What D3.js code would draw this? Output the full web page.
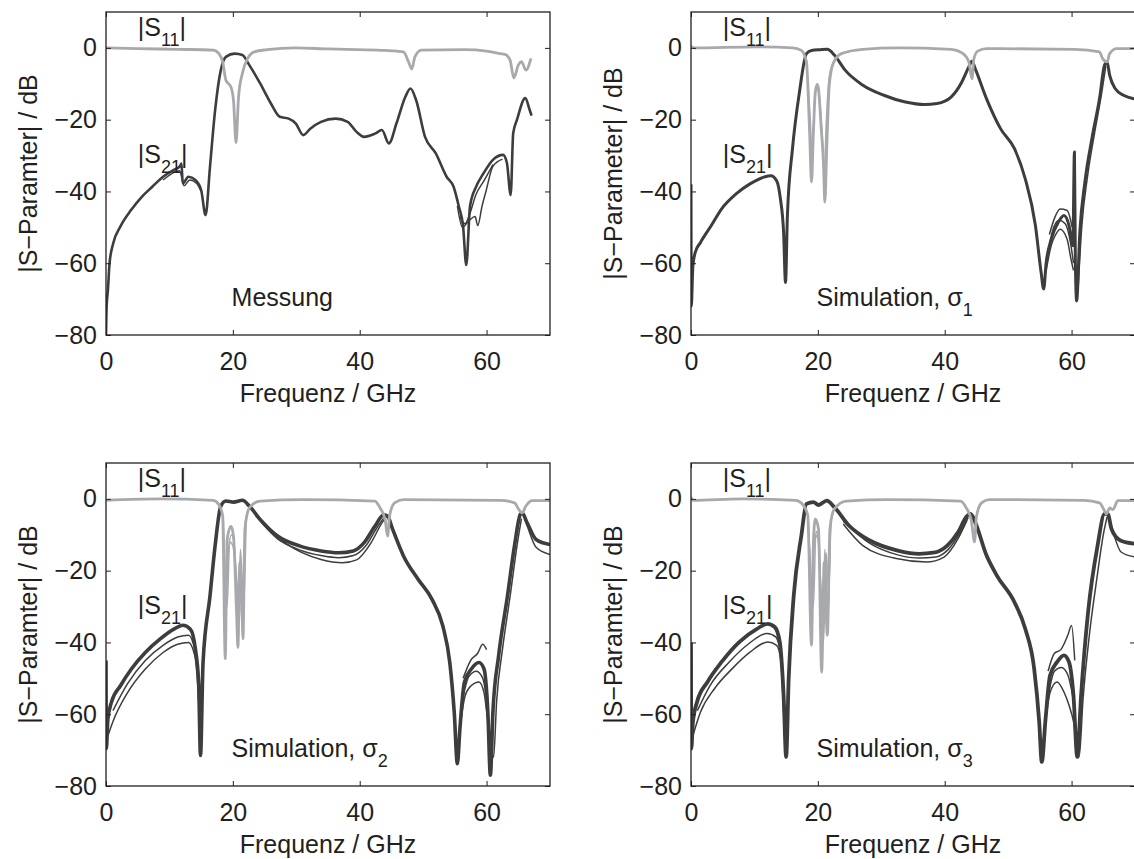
<!DOCTYPE html>
<html>
<head>
<meta charset="utf-8">
<script src="https://cdn.jsdelivr.net/npm/d3@7"></script>
<style>
  body { margin: 0; background: #fff; }
  svg { display: block; }
  text { font-family: "Liberation Sans", Arial, Helvetica, sans-serif; fill: #231f20; }
</style>
</head>
<body>
<svg id="chart" width="1134" height="859"></svg>
<script>
// axis ticks (GHz / dB)
const freqTicks = [0, 20, 40, 60];
const dbTicks = [-80, -60, -40, -20, 0];
const freqRange = [0, 70];
const dbRange = [-80, 10];

// ---- Messung ----
const messS11 = [[0,0],[5,-0.2],[11.3,-0.4],[16.9,-0.6],[17.8,-1.6],[18.4,-3.9],[18.9,-9],[19.7,-10.9],[20.1,-14.6],[20.5,-26.4],[20.9,-13.6],[21.5,-7.1],[22.3,-3],[23.4,-1.1],[25.4,-0.5],[29.9,0],[35,-0.3],[39.5,-0.5],[44,-0.7],[46.9,-1.1],[47.7,-3.9],[48.2,-5.9],[48.7,-2.5],[49.7,-0.6],[56.5,-0.5],[60,-0.9],[62.1,-1.6],[62.9,-1.8],[63.7,-3.4],[64.3,-8.4],[65,-4.8],[65.5,-3.8],[66.2,-6.2],[67,-2.9]];
const messS21 = [[0,-80],[0.1,-72],[0.3,-67.5],[0.56,-60],[1.13,-54.5],[2.26,-49.8],[3.95,-45.2],[5.65,-41.5],[7.3,-38.7],[9,-35.9],[10.7,-34],[11.6,-33.1],[11.9,-32.2],[12.1,-37.8],[13,-35.9],[14.1,-36.8],[15,-39.6],[15.7,-46.6],[16.4,-33],[17.2,-17.4],[18.1,-6.2],[18.9,-2.5],[20.3,-1.6],[21.5,-2],[22.6,-4.8],[24.3,-9.9],[26,-15.5],[27.4,-19.2],[28.8,-19.7],[29.9,-21],[31.1,-24.3],[32.2,-22.5],[33.9,-20.6],[36.2,-19.7],[38.1,-20.6],[39.5,-23.4],[40.7,-24.8],[42.4,-23.9],[43.5,-22.9],[44.6,-26.6],[45.8,-21],[47.2,-13.6],[48,-11.3],[48.9,-14.6],[50.3,-24.8],[52,-29.4],[53.7,-35.9],[54.8,-38.7],[55.6,-44],[56.3,-49.8],[56.8,-60.5],[57.4,-44],[58.4,-38.5],[59.5,-35],[61,-31.2],[62.6,-29.8],[63.2,-32],[63.8,-41],[64.2,-23.8],[64.8,-20],[66.1,-14],[66.8,-17.3],[67.1,-18.9]];
const messS21Thin = [[55.4,-44],[56.2,-50],[57.3,-48],[58.2,-47],[58.6,-49.5],[59.3,-44],[59.9,-40],[61,-33],[62.5,-31]];
const messS21Thin2 = [[9,-36.8],[11.6,-34.2],[12.3,-38.4],[13.2,-36.8],[14.3,-37.8],[15,-40]];
const messS21Thin3 = [[55.8,-47],[56.6,-49],[57.4,-46],[58.3,-41],[59.6,-37],[61,-32.5]];

// ---- Simulation sigma 1 ----
const sig1S11 = [[0,0.5],[0.4,0],[10.4,0.3],[16,0],[17.4,-0.7],[18.2,-3.9],[18.7,-23.5],[19,-37.4],[19.3,-23.5],[19.6,-12.3],[19.9,-10.2],[20.1,-11.4],[20.5,-21.6],[20.9,-32.8],[21.1,-43],[21.4,-28.1],[21.8,-10.4],[22.4,-4.4],[23.7,-1.6],[27.1,-0.4],[32.6,0],[41,-0.4],[42.9,-1.6],[43.8,-3.9],[44.3,-8.6],[44.6,-3],[45.2,-0.9],[46.6,-0.2],[60.5,-0.4],[64.4,-1.1],[64.9,-3],[65.6,-3.9],[66,-1.6],[67.1,-0.2],[70,-0.2]];
const sig1S11b = [[18.2,-3.9],[18.8,-20],[19.1,-30],[19.4,-18],[19.8,-11],[20.2,-13],[20.7,-25],[21,-36],[21.3,-22],[21.8,-8],[22.4,-4.4]];
const sig1S21 = [[0,-38],[0.05,-72],[0.3,-60.7],[0.67,-57],[1.5,-54.2],[3.2,-49.5],[4.8,-44.9],[7.1,-40.7],[9.3,-37.9],[11.5,-36],[12.6,-35.6],[13.5,-37],[14.1,-42.1],[14.6,-51.4],[14.9,-65.4],[15.2,-46.7],[16,-28.1],[17.1,-12.3],[18.2,-1.6],[19,-0.7],[20.4,-0.5],[21.5,-0.4],[22.6,-2],[24.3,-6.2],[27.1,-10.4],[30.4,-13.2],[33.8,-15.1],[36.8,-15.8],[38.8,-15.5],[41,-13.7],[42.7,-9.5],[43.8,-5.3],[44.3,-3.7],[44.9,-6.2],[46.6,-14.2],[48.8,-22.5],[51,-28.1],[52.7,-36.5],[54.3,-49.5],[55.2,-62.6],[55.6,-67.2],[56,-59.8],[56.8,-53.3],[57.9,-48.6],[58.8,-46.7],[59.6,-49.5],[60.2,-55.1],[60.45,-29],[60.6,-60],[60.8,-70.5],[61.3,-51.4],[62.1,-37.4],[63.2,-25.3],[64.4,-14.2],[65.2,-4.8],[65.6,-3.9],[66,-7.6],[66.9,-11.4],[68.2,-13.2],[70,-14.2]];
const sig1S21Lo = [[56,-62],[56.8,-55],[57.5,-52],[58.2,-50.5],[59.3,-53.3],[59.9,-58.8],[60.3,-62]];
const sig1S21Mid = [[56.2,-58],[57,-51],[58,-48],[59,-49],[59.8,-54],[60.3,-60]];
const sig1S21Hi = [[56.5,-52],[57.3,-47.5],[58.2,-44.9],[59.3,-45.3],[60.1,-50]];
const sig1S21Edge = [[61,-68],[61.6,-50],[62.5,-36],[63.6,-24],[64.8,-12],[65.4,-5]];

// ---- Simulation sigma 2 ----
const sig2S11 = [[0,-0.4],[8.5,0],[16.9,-0.4],[17.8,-1.6],[18.4,-4.8],[18.8,-44.6],[19.1,-11.3],[19.7,-7.6],[20.1,-10.4],[20.6,-32.6],[20.8,-41.4],[21.1,-17.8],[21.4,-27],[21.6,-39],[21.9,-8.5],[22.6,-2.5],[24.3,-0.6],[31.1,-0.2],[42.4,-0.6],[43.2,-2.5],[44,-5.7],[44.4,-10.4],[44.7,-4.8],[45.5,-1.1],[46.9,-0.2],[62.1,-0.4],[64.4,-1.1],[65.1,-3],[65.6,-3.9],[66.2,-2],[67.2,-0.5],[70,-0.5]];
const sig2S11b = [[18.4,-4.8],[19,-25],[19.3,-14],[19.8,-10],[20.3,-14],[20.7,-30],[21,-20],[21.5,-36],[22,-6],[22.6,-2.5]];
const sig2S11c = [[18.5,-6],[19.1,-30],[19.5,-12],[20,-13],[20.5,-20],[20.9,-28],[21.2,-14],[21.7,-30],[22.1,-5]];
const sig2S21 = [[0,-45],[0.05,-69.6],[0.3,-61.3],[0.85,-56.7],[2.3,-52],[4,-47.4],[6.2,-42.8],[8.5,-39.1],[10.7,-36.3],[12.1,-35.2],[13.3,-36.3],[14.1,-41.9],[14.6,-51.1],[14.9,-71.5],[15.3,-45.6],[16.4,-27],[17.2,-13.1],[18.1,-2],[18.9,-0.6],[20.1,-0.9],[21.5,-0.4],[22.6,-2],[24.3,-5.7],[27.1,-10.4],[30.5,-13.1],[33.9,-14.5],[36.7,-15],[39,-14.5],[40.7,-12.2],[42.4,-7.6],[43.8,-4.4],[44.4,-4.8],[45.2,-8.5],[46.9,-15.9],[49.2,-22.4],[51.4,-28],[53.1,-35.4],[54.2,-45.6],[54.9,-59.4],[55.4,-73.8],[55.8,-64],[56.5,-51.1],[57.6,-47.4],[58.8,-45.6],[59.6,-47.4],[60.2,-59.4],[60.6,-77],[61,-59.4],[61.9,-43.7],[63.3,-27],[64.4,-13.1],[65.3,-4.4],[65.6,-3.9],[66.4,-6.7],[67.8,-11.3],[70,-12.7]];
const sig2S21Mid = [[1.1,-59],[3.4,-51.5],[6.2,-45],[9,-40.8],[11.3,-38.5],[13,-38],[14,-42],[14.6,-52]];
const sig2S21Lo = [[0.3,-66],[1.1,-62],[3.4,-54],[6.2,-47.4],[9,-42.8],[11.3,-40.5],[13,-40],[14,-43.7],[14.5,-53],[14.9,-68]];
const sig2S21Mid2 = [[23.5,-4.5],[27.1,-11.2],[30.5,-14.2],[33.9,-15.8],[36.7,-16.4],[39,-15.8],[41,-13],[42.8,-7.8],[44,-4.8]];
const sig2S21Lo2 = [[24.5,-6.5],[28.2,-12.2],[33.9,-16.9],[37.3,-17.8],[39.5,-17],[41.8,-12.2],[43.5,-6.7],[44.2,-5]];
const sig2S21Lo3 = [[55.8,-64],[56.6,-55],[57.6,-52],[58.8,-51],[59.6,-54],[60.2,-62],[61.1,-72],[61.6,-56],[62.5,-42],[63.8,-26],[64.8,-13],[65.5,-5.5]];
const sig2S21Mid3 = [[56.2,-56],[57.2,-49.5],[58.4,-48],[59.4,-50],[60.1,-57]];
const sig2S21Hi3 = [[56.3,-50],[57.5,-45],[58.6,-43],[59.4,-40.5],[60,-42]];
const sig2S21Lo4 = [[65.8,-4.5],[66.5,-8],[67.8,-13.5],[70,-15.5]];

// ---- Simulation sigma 3 ----
const sig3S11 = [[0,0.5],[0.3,-0.4],[8,0],[16.5,-0.4],[17.6,-1.5],[18.4,-4.5],[19,-40.8],[19.3,-12],[19.6,-5.6],[20.1,-8.4],[20.6,-48.3],[21,-17.6],[21.5,-38],[21.9,-8.4],[22.6,-2.8],[24.5,-0.6],[31,-0.2],[42.5,-0.6],[43.4,-2.5],[44.2,-6],[44.7,-12],[45,-5],[45.8,-1.1],[47,-0.2],[62,-0.4],[64.4,-1.1],[65.1,-3],[65.5,-4.2],[66,-2.5],[66.5,-3],[67.3,-0.5],[70,-0.5]];
const sig3S11b = [[18.4,-4.5],[18.9,-20],[19.3,-30],[19.7,-9],[20.2,-12],[20.5,-30],[20.9,-40],[21.3,-15],[21.7,-25],[22.1,-6],[22.6,-2.8]];
const sig3S11c = [[18.5,-6],[19.1,-26],[19.5,-10],[20,-11],[20.4,-22],[20.8,-32],[21.1,-14],[21.6,-33],[22,-7]];
const sig3S21 = [[0,-40],[0.05,-69.6],[0.3,-62.2],[0.95,-56.6],[2.6,-51],[4.8,-45.5],[7.6,-39.9],[10.4,-36.2],[12.1,-34.8],[13.2,-35.7],[14,-39.9],[14.6,-54.8],[15,-71.9],[15.4,-50.1],[16.2,-26.9],[17.4,-10.2],[18.2,-1.4],[19.3,-0.9],[20.1,-1.7],[21.4,-0.5],[22.6,-2.3],[24.9,-7.4],[28.2,-11.6],[32.6,-14.4],[36,-15.3],[38.2,-15],[40.4,-13],[42.1,-9.3],[43.5,-4.8],[44.1,-4.2],[44.8,-6.5],[46.6,-15.8],[48.2,-21.3],[51,-28.8],[52.7,-36.2],[54.1,-47.3],[54.9,-62.2],[55.3,-73.3],[55.9,-61.3],[56.6,-49.2],[57.7,-45.5],[58.8,-43.6],[59.6,-45.5],[60.3,-54.8],[60.9,-71.9],[61.5,-54.8],[62.6,-31.6],[64.1,-13],[65.2,-4.2],[65.7,-4.2],[66.3,-8.4],[67.7,-11.6],[70,-12.5]];
const sig3S21Mid = [[1,-59],[3,-52],[6,-45.5],[9,-40.5],[12,-37.5],[13.4,-38.5],[14.2,-43]];
const sig3S21Lo = [[0.3,-66],[1.5,-59.4],[3.7,-52.9],[6.5,-47.3],[9.3,-42.7],[12.1,-39.9],[13.5,-40.8],[14.2,-45.5],[14.6,-59.4],[15,-70]];
const sig3S21Mid2 = [[24,-6.2],[28.2,-12.4],[32.6,-15.6],[36,-16.5],[38.6,-16.2],[40.6,-14],[42.4,-9.5],[43.7,-5.2]];
const sig3S21Lo2 = [[24,-7],[27.1,-13],[32.6,-16.7],[37.1,-17.6],[39.9,-16.2],[42.1,-11.1],[43.5,-6]];
const sig3S21Lo3 = [[55.9,-62],[56.6,-54],[57.7,-51],[58.8,-53.8],[59.6,-57.5],[60.3,-62],[61.2,-71.9],[61.8,-56],[62.8,-38],[64,-22],[65,-10],[65.6,-5]];
const sig3S21Mid3 = [[56.3,-55],[57.3,-48],[58.4,-47],[59.4,-49],[60.2,-55]];
const sig3S21Hi3 = [[56.3,-48],[57.3,-43],[58.3,-42],[59.4,-38],[60,-35.3],[60.5,-45]];
const sig3S21Lo4 = [[65.9,-5],[66.6,-9.5],[67.8,-14.8],[70,-16.2]];

// label anchors in data units (GHz, dB)
const s11LabelPos = [5, 3.2];
const s21LabelPos = [5, -32];
const nameLabelPos = [19.8, -72];

const panels = [
  {left: 106, top: 12, yTitle: "|S\u2212Paramter| / dB", name: "Messung", nameSub: null, w21: 2.6,
   s11: [messS11], s11Thin: [], s21: [messS21], s21Thin: [messS21Thin, messS21Thin2, messS21Thin3]},
  {left: 691, top: 12, yTitle: "|S\u2212Parameter| / dB", name: "Simulation, \u03c3", nameSub: "1", w21: 3,
   s11: [sig1S11], s11Thin: [sig1S11b], s21: [sig1S21], s21Thin: [sig1S21Lo, sig1S21Mid, sig1S21Hi, sig1S21Edge]},
  {left: 106, top: 463, yTitle: "|S\u2212Paramter| / dB", name: "Simulation, \u03c3", nameSub: "2", w21: 3.6,
   s11: [sig2S11], s11Thin: [sig2S11b, sig2S11c],
   s21: [sig2S21], s21Thin: [sig2S21Mid, sig2S21Lo, sig2S21Mid2, sig2S21Lo2, sig2S21Lo3, sig2S21Mid3, sig2S21Hi3, sig2S21Lo4]},
  {left: 691, top: 463, yTitle: "|S\u2212Paramter| / dB", name: "Simulation, \u03c3", nameSub: "3", w21: 3.8,
   s11: [sig3S11], s11Thin: [sig3S11b, sig3S11c],
   s21: [sig3S21], s21Thin: [sig3S21Mid, sig3S21Lo, sig3S21Mid2, sig3S21Lo2, sig3S21Lo3, sig3S21Mid3, sig3S21Hi3, sig3S21Lo4]}
];

const plotW = 444, plotH = 323;
const darkCol = "#3d3d3d", lightCol = "#a7a9ac", axisCol = "#231f20";

const svg = d3.select("#chart");

function subLabel(g, x, y, pre, sub, post) {
  var t = g.append("text").attr("x", x).attr("y", y).attr("font-size", 25);
  t.append("tspan").text(pre);
  if (sub) t.append("tspan").attr("dy", 10).attr("font-size", 18).text(sub);
  if (post) t.append("tspan").attr("dy", -10).text(post);
}

panels.forEach(function(p, i) {
  var x = d3.scaleLinear().domain(freqRange).range([0, plotW]);
  var y = d3.scaleLinear().domain(dbRange).range([plotH, 0]);

  var g = svg.append("g").attr("transform", "translate(" + p.left + "," + p.top + ")");

  g.append("clipPath").attr("id", "clip" + i)
    .append("rect").attr("width", plotW).attr("height", plotH);

  var line = d3.line()
    .curve(d3.curveMonotoneX)
    .x(function(d) { return x(d[0]); })
    .y(function(d) { return y(d[1]); });

  var plot = g.append("g").attr("clip-path", "url(#clip" + i + ")");

  function draw(list, col, w) {
    list.forEach(function(s) {
      plot.append("path").attr("d", line(s)).attr("fill", "none")
        .attr("stroke", col).attr("stroke-width", w).attr("stroke-linejoin", "round");
    });
  }

  // S21 first, S11 on top
  draw(p.s21Thin, darkCol, 1.5);
  draw(p.s21, darkCol, p.w21);
  draw(p.s11Thin, lightCol, 1.5);
  draw(p.s11, lightCol, 2.8);

  // axes, ticks pointing inward
  var xAxis = g.append("g").attr("transform", "translate(0," + plotH + ")")
    .call(d3.axisBottom(x).tickValues(freqTicks).tickSizeInner(-5).tickSizeOuter(0).tickPadding(17));
  var xTop = g.append("g")
    .call(d3.axisTop(x).tickValues(freqTicks).tickSizeInner(-5).tickSizeOuter(0).tickFormat(""));
  var yAxis = g.append("g")
    .call(d3.axisLeft(y).tickValues(dbTicks).tickSizeInner(-5).tickSizeOuter(0).tickPadding(9));
  var yRight = g.append("g").attr("transform", "translate(" + plotW + ",0)")
    .call(d3.axisRight(y).tickValues(dbTicks).tickSizeInner(-5).tickSizeOuter(0).tickFormat(""));

  [xAxis, xTop, yAxis, yRight].forEach(function(a) {
    a.select(".domain").remove();
    a.selectAll(".tick line").attr("stroke", axisCol).attr("stroke-width", 1);
    a.selectAll(".tick text").attr("font-size", 25).attr("font-family", null).style("fill", axisCol);
  });

  g.append("rect").attr("width", plotW).attr("height", plotH)
    .attr("fill", "none").attr("stroke", axisCol).attr("stroke-width", 1.3);

  // axis titles
  g.append("text")
    .attr("x", plotW / 2).attr("y", plotH + 67)
    .attr("text-anchor", "middle").attr("font-size", 25)
    .text("Frequenz / GHz");

  g.append("text")
    .attr("transform", "translate(-69," + (plotH / 2) + ") rotate(-90)")
    .attr("text-anchor", "middle").attr("font-size", 25)
    .text(p.yTitle);

  // curve labels
  subLabel(g, x(s11LabelPos[0]), y(s11LabelPos[1]), "|S", "11", "|");
  subLabel(g, x(s21LabelPos[0]), y(s21LabelPos[1]), "|S", "21", "|");
  subLabel(g, x(nameLabelPos[0]), y(nameLabelPos[1]), p.name, p.nameSub, null);
});
</script>
</body>
</html>
